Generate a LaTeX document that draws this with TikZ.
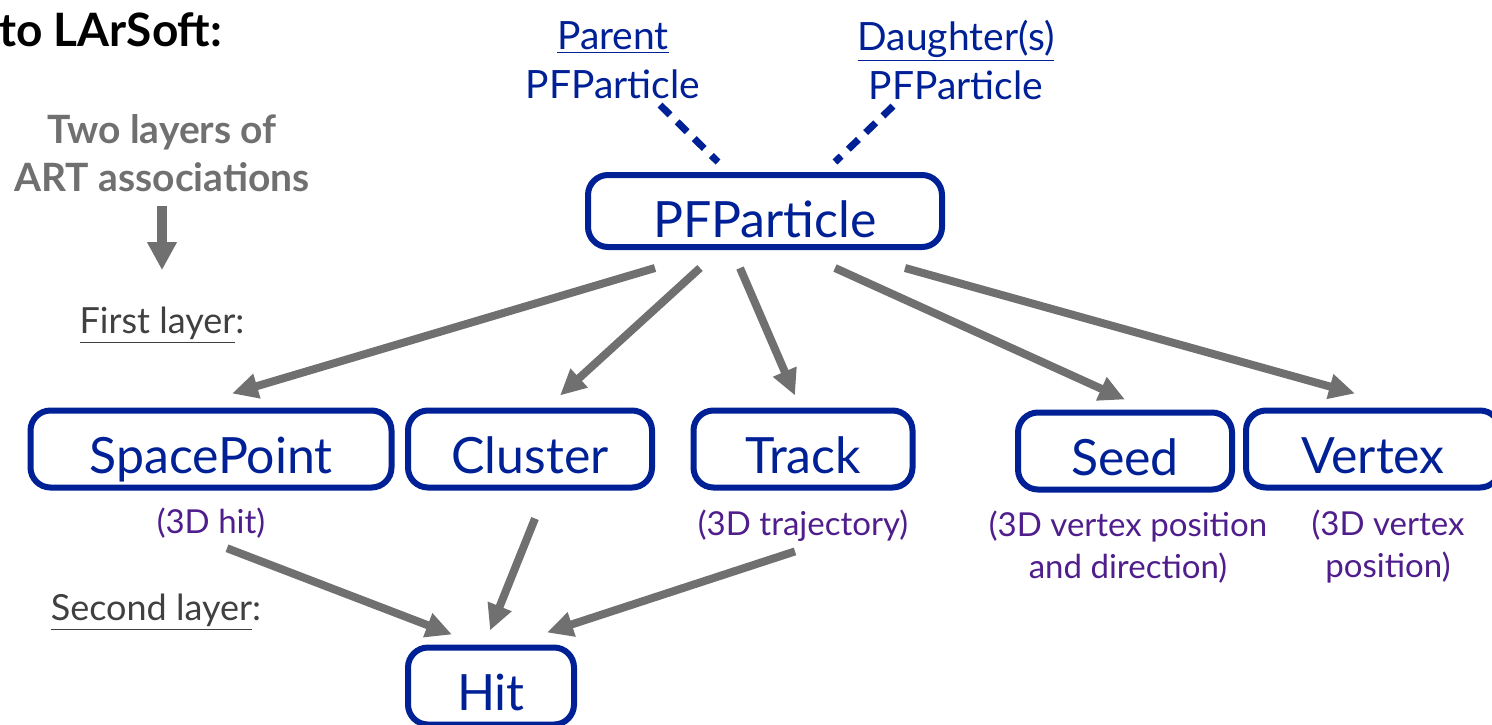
\documentclass[tikz,border=0pt]{standalone}
\usepackage{fontspec}
\setmainfont{Lato}
\usetikzlibrary{arrows.meta}
\definecolor{pfblue}{RGB}{0,32,150}
\definecolor{assocgray}{RGB}{112,112,112}
\definecolor{notepurple}{RGB}{80,30,140}
\definecolor{layergray}{RGB}{64,64,64}

\begin{document}
\begin{tikzpicture}[x=0.5pt,y=-0.5pt,
	obj/.style={draw=pfblue, line width=3pt, rounded corners=10pt, text=pfblue, inner sep=0pt,
		font=\fontsize{25}{30}\selectfont, minimum height=38.5pt, text height=24pt, text depth=0pt},
	note/.style={text=notepurple, inner sep=0pt, align=center, font=\fontsize{16.5}{21}\selectfont},
	layer/.style={text=layergray, inner sep=0pt, font=\fontsize{18}{24}\selectfont},
	assoc/.style={draw=assocgray, line width=4pt, -{Triangle[length=13pt,width=12pt]}},
	family/.style={draw=pfblue, line width=3.5pt, dash pattern=on 7pt off 5pt}]
	\useasboundingbox (0,0) rectangle (1492,724);

	%Titulo
	\node [anchor=base west, inner sep=0pt, font=\bfseries\fontsize{23}{27}\selectfont] (title) at (-1,46) {to LArSoft:};
	\node [text=assocgray, inner sep=0pt, align=center, font=\bfseries\fontsize{19.5}{24}\selectfont] (two) at (162,153) {Two layers of\\ART associations};
	\node [layer, anchor=base] (first) at (162,333) {\underline{First layer}:};
	\node [layer, anchor=base] (second) at (156,620) {\underline{Second layer}:};
	\draw [draw=assocgray, line width=5pt, -{Triangle[length=14pt,width=14pt]}, shorten <=7pt, shorten >=18pt] (two.south) -- (two.south |- first.north);

	%Padre e hijas
	\node [text=pfblue, inner sep=0pt, align=center, font=\fontsize{19.5}{24.5}\selectfont] (parent) at (613,60) {\underline{Parent}\\PFParticle};
	\node [text=pfblue, inner sep=0pt, align=center, font=\fontsize{19.5}{24.5}\selectfont] (daughter) at (956,60) {\underline{Daughter(s)}\\PFParticle};

	%Cajas
	\node [obj, minimum width=177pt, minimum height=36pt, text height=26pt] (pfp) at (765,211) {PFParticle};
	\node [obj, minimum width=180.5pt] (sp) at (211,449) {SpacePoint};
	\node [obj, minimum width=122pt] (cl) at (530,449) {Cluster};
	\node [obj, minimum width=109.5pt] (trk) at (803,449) {Track};
	\node [obj, minimum width=107pt] (seed) at (1125,451) {Seed};
	\node [obj, minimum width=127pt] (vtx) at (1373,449) {Vertex};
	\node [obj, minimum width=83pt] (hit) at (491,686) {Hit};

	\node [note, anchor=base] (sphit) at (211,533) {(3D hit)};
	\node [note, anchor=base] (trktraj) at (803,535) {(3D trajectory)};
	\node [note] (seedpos) at (1128,547) {(3D vertex position\\and direction)};
	\node [note] (vtxpos) at (1388,547) {(3D vertex\\position)};

	\draw [family] ([xshift=23.5pt,yshift=-3pt]parent.south) -- ([xshift=-23.5pt,yshift=5pt]pfp.north);
	\draw [family] ([xshift=-31.5pt,yshift=-3pt]daughter.south) -- ([xshift=35pt,yshift=5pt]pfp.north);

	%Primera capa
	\draw [assoc] ([xshift=-55pt,yshift=-9pt]pfp.south) -- ([xshift=10.5pt,yshift=7pt]sp.north);
	\draw [assoc] ([xshift=-32.5pt,yshift=-9pt]pfp.south) -- ([xshift=15pt,yshift=6pt]cl.north);
	\draw [assoc] ([xshift=-12.5pt,yshift=-9pt]pfp.south) -- ([xshift=-4pt,yshift=6pt]trk.north);
	\draw [assoc] ([xshift=35pt,yshift=-9pt]pfp.south) -- ([xshift=0pt,yshift=5pt]seed.north);
	\draw [assoc] ([xshift=70pt,yshift=-9pt]pfp.south) -- ([xshift=-9pt,yshift=7pt]vtx.north);

	%Segunda capa
	\draw [assoc] ([xshift=8pt,yshift=-5pt]sphit.south) -- ([xshift=-19.5pt,yshift=5pt]hit.north);
	\draw [assoc] ([xshift=2.5pt,yshift=-14pt]cl.south) -- ([xshift=-0.5pt,yshift=7pt]hit.north);
	\draw [assoc] ([xshift=-4pt,yshift=-5pt]trktraj.south) -- ([xshift=28pt,yshift=6pt]hit.north);
\end{tikzpicture}
\end{document}
